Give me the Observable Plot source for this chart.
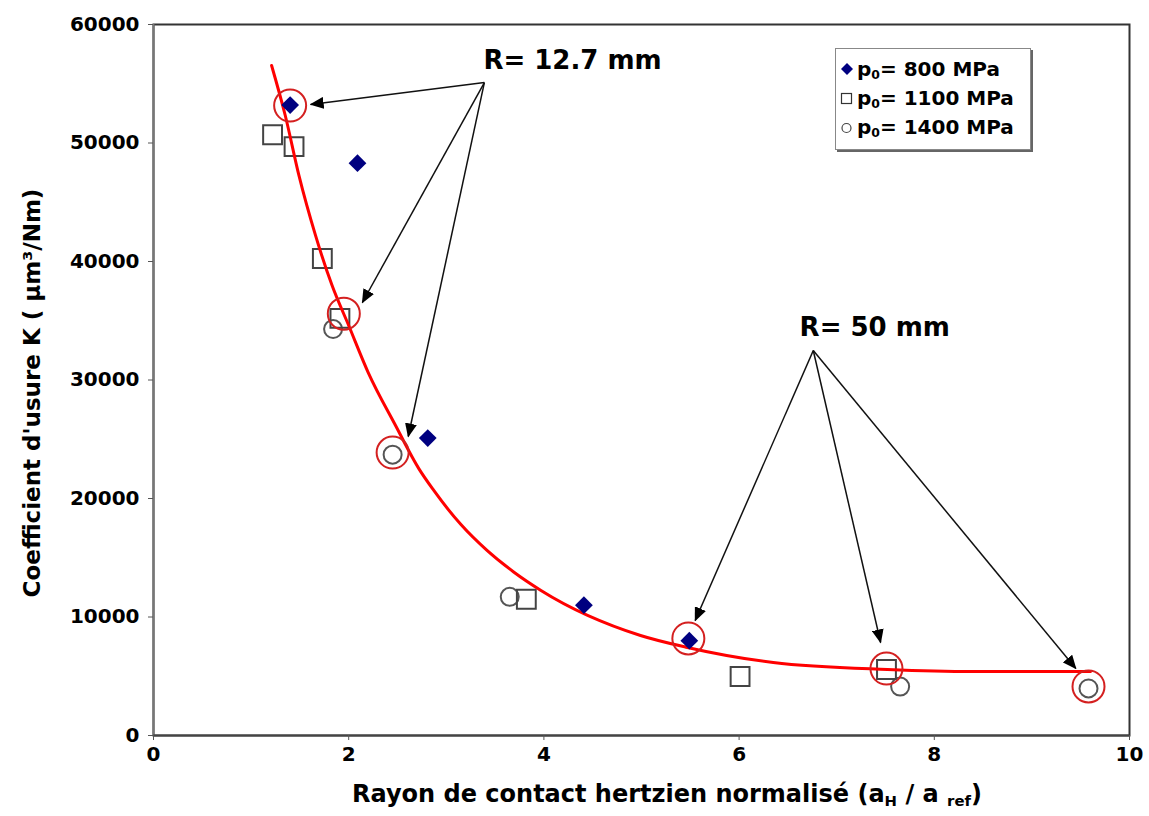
<!DOCTYPE html>
<html>
<head>
<meta charset="utf-8">
<script src="https://cdn.jsdelivr.net/npm/d3@7"></script>
<script src="https://cdn.jsdelivr.net/npm/@observablehq/plot@0.6"></script>
<style>
  html, body { margin: 0; padding: 0; background: #fff; }
  #wrap { position: relative; width: 1149px; height: 816px; font-family: "DejaVu Sans", sans-serif; font-weight: bold; }
  #legend { position: absolute; left: 835px; top: 48px; width: 196px; height: 102px; border: 1px solid #888; box-shadow: 2px 2px 0 #666; background: #fff; box-sizing: border-box; }
  .row { position: absolute; left: 0; height: 28px; font-size: 20px; line-height: 28px; color: #000; }
  .row svg { position: absolute; left: 3px; top: 6px; }
  .row span.t { position: absolute; left: 21px; white-space: nowrap; }
  sub { font-size: 0.62em; vertical-align: -0.25em; line-height: 0; }
  #xlab { position: absolute; left: 0; width: 1334px; top: 780px; text-align: center; font-size: 24px; color: #000; white-space: nowrap; }
  #ylab { position: absolute; left: 32px; top: 393px; transform: translate(-50%, -50%) rotate(-90deg); font-size: 23px; white-space: nowrap; color: #000; }
</style>
</head>
<body>
<div id="wrap">
  <div id="chart"></div>
  <div id="legend">
    <div class="row" style="top:6px"><svg width="16" height="16"><path d="M8,2L14,8L8,14L2,8Z" fill="#000080"/></svg><span class="t">p<sub>0</sub>= 800 MPa</span></div>
    <div class="row" style="top:35px"><svg width="16" height="16"><rect x="2.5" y="3.5" width="10" height="10" fill="none" stroke="#333" stroke-width="1.2"/></svg><span class="t">p<sub>0</sub>= 1100 MPa</span></div>
    <div class="row" style="top:64px"><svg width="16" height="16"><circle cx="7.5" cy="9" r="4.5" fill="none" stroke="#444" stroke-width="1.2"/></svg><span class="t">p<sub>0</sub>= 1400 MPa</span></div>
  </div>
  <div id="ylab">Coefficient d'usure K ( µm³/Nm)</div>
  <div id="xlab">Rayon de contact hertzien normalisé (a<sub>H</sub> / a <sub>ref</sub>)</div>
</div>
<script>
// ---- Data ----
const xTicks = [0, 2, 4, 6, 8, 10];
const yTicks = [0, 10000, 20000, 30000, 40000, 50000, 60000];

// p0 = 800 MPa (filled diamonds)
const x800 = [1.40, 2.09, 2.81, 4.41, 5.49];
const k800 = [53200, 48300, 25100, 11000, 8000];

// p0 = 1100 MPa (open squares)
const x1100 = [1.22, 1.44, 1.73, 1.91, 3.82, 6.01, 7.51];
const k1100 = [50700, 49700, 40250, 35200, 11500, 4980, 5570];

// p0 = 1400 MPa (open circles)
const x1400 = [1.84, 2.45, 3.65, 7.65, 9.58];
const k1400 = [34300, 23700, 11700, 4130, 3970];

// Highlighted points (red circles)
const xHi = [1.40, 1.95, 2.45, 5.48, 7.51, 9.58];
const kHi = [53160, 35600, 23880, 8190, 5650, 4140];

// Red trend curve
const xCurve = [1.21, 1.35, 1.49, 1.66, 1.83, 2.00, 2.20, 2.48, 2.72, 2.87, 3.15, 3.42, 3.69, 3.97, 4.99, 5.47, 6.35, 7.52, 8.40, 9.60];
const kCurve = [56540, 52320, 47260, 42200, 37970, 34600, 30630, 26160, 22500, 20700, 17800, 15600, 13800, 12240, 8440, 7430, 6160, 5570, 5400, 5400];

// Annotations
const labels = ["R= 12.7 mm", "R= 50 mm"];
const labelX = [3.38, 6.62];
const labelK = [56950, 34450];

const arrowGroup = [0, 0, 0, 1, 1, 1];
const arrowX1 = [3.39, 3.39, 3.39, 6.76, 6.76, 6.76];
const arrowK1 = [55100, 55100, 55100, 32490, 32490, 32490];
const arrowX2 = [1.61, 2.14, 2.61, 5.55, 7.45, 9.45];
const arrowK2 = [53250, 36540, 25230, 9700, 7850, 5650];

// ---- Tables ----
const toRows = (xs, ks) => xs.map((x, i) => ({x, k: ks[i]}));
const d800 = toRows(x800, k800);
const d1100 = toRows(x1100, k1100);
const d1400 = toRows(x1400, k1400);
const dHi = toRows(xHi, kHi);
const dCurve = toRows(xCurve, kCurve);
const dLabels = labels.map((t, i) => ({t, x: labelX[i], k: labelK[i]}));
const dArrows = arrowGroup.map((g, i) => ({x1: arrowX1[i], y1: arrowK1[i], x2: arrowX2[i], y2: arrowK2[i]}));

const fmt = d3.format("d");

const plot = Plot.plot({
  width: 1149,
  height: 816,
  marginLeft: 153,
  marginRight: 20,
  marginTop: 24,
  marginBottom: 81,
  style: { fontFamily: "'DejaVu Sans', sans-serif", fontWeight: "bold", fontSize: "19px", color: "#000", background: "transparent" },
  x: { domain: [0, 10], label: null },
  y: { domain: [0, 60000], label: null },
  marks: [
    Plot.frame({ stroke: "#333", strokeWidth: 2 }),
    Plot.ruleX([0], { stroke: "#777", strokeWidth: 2 }),
    Plot.ruleY([0], { stroke: "#444", strokeWidth: 2 }),
    Plot.axisX({ ticks: xTicks, tickFormat: fmt, tickSize: 5, tickPadding: 6, stroke: "#555", label: null, fontSize: 20, fontWeight: "bold", fill: "#000" }),
    Plot.axisY({ ticks: yTicks, tickFormat: fmt, tickSize: 5, tickPadding: 9, stroke: "#555", label: null, fontSize: 20, fontWeight: "bold", fill: "#000" }),
    Plot.dot(d1400, { x: "x", y: "k", symbol: "circle", r: 9, stroke: "#555", strokeWidth: 2, fill: "none" }),
    Plot.dot(d1100, { x: "x", y: "k", symbol: "square2", r: 12, stroke: "#444", strokeWidth: 2, fill: "none" }),
    Plot.line(dCurve, { x: "x", y: "k", stroke: "#ff0000", strokeWidth: 3, curve: "monotone-x" }),
    Plot.dot(d800, { x: "x", y: "k", symbol: "diamond2", r: 8, fill: "#000080", stroke: "none" }),
    Plot.dot(dHi, { x: "x", y: "k", symbol: "circle", r: 16, stroke: "#d42020", strokeWidth: 2, fill: "none" }),
    Plot.link(dArrows, { x1: "x1", y1: "y1", x2: "x2", y2: "y2", stroke: "#111", strokeWidth: 1.5 }),
    Plot.text(dLabels, { x: "x", y: "k", text: "t", textAnchor: "start", fontSize: 26, fontWeight: "bold", fill: "#000" })
  ]
});

// filled arrowheads on the annotation links
const ns = "http://www.w3.org/2000/svg";
const defs = document.createElementNS(ns, "defs");
defs.innerHTML = '<marker id="ahead" viewBox="0 0 14 12" refX="13" refY="6" markerWidth="14" markerHeight="12" markerUnits="userSpaceOnUse" orient="auto"><path d="M0,0L14,6L0,12Z" fill="#000"/></marker>';
plot.insertBefore(defs, plot.firstChild);
plot.querySelectorAll('g[aria-label="link"] path').forEach(p => p.setAttribute("marker-end", "url(#ahead)"));

document.getElementById("chart").appendChild(plot);
</script>
</body>
</html>
